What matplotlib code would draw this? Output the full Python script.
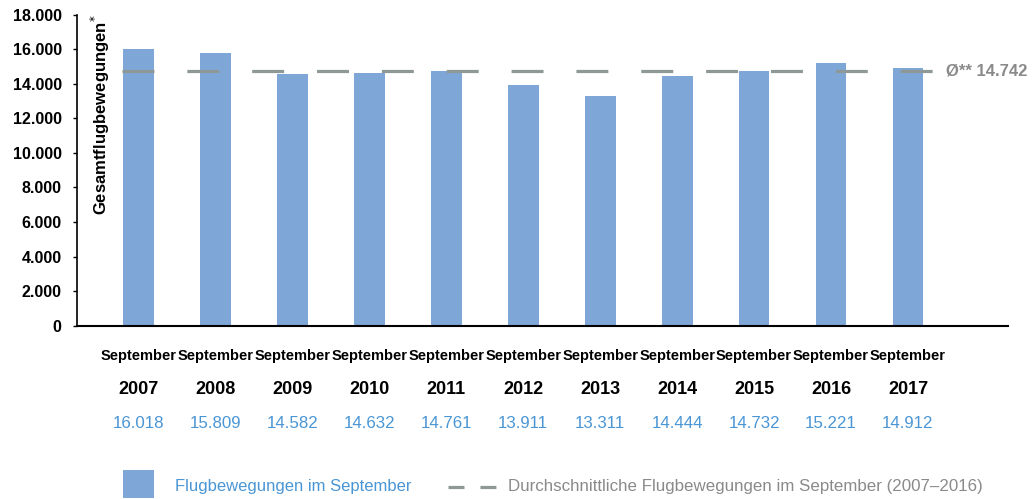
import matplotlib
matplotlib.use("Agg")
import matplotlib.pyplot as plt
from matplotlib.patches import Rectangle
from matplotlib.lines import Line2D
from matplotlib.transforms import blended_transform_factory
from matplotlib.ticker import FuncFormatter

plt.rcParams['font.family'] = ['Liberation Sans', 'DejaVu Sans']

years = ["2007", "2008", "2009", "2010", "2011", "2012", "2013", "2014", "2015", "2016", "2017"]
month_label = "September"
values = [16018, 15809, 14582, 14632, 14761, 13911, 13311, 14444, 14732, 15221, 14912]
value_labels = ["16.018", "15.809", "14.582", "14.632", "14.761", "13.911", "13.311", "14.444", "14.732", "15.221", "14.912"]
average = 14742
average_label = "Ø** 14.742"
y_ticks = [0, 2000, 4000, 6000, 8000, 10000, 12000, 14000, 16000, 18000]
ylabel = "Gesamtflugbewegungen"
legend_bar = "Flugbewegungen im September"
legend_line = "Durchschnittliche Flugbewegungen im September (2007\u20132016)"

BAR = "#7ea7d8"
AVG = "#8e9896"
BLUE_TXT = "#4a96d4"
GRAY_TXT = "#8a8a8a"

W, H = 1032, 499
fig = plt.figure(figsize=(W / 100, H / 100), dpi=100)
ax = fig.add_axes([77 / W, 1 - 325.7 / H, (1008 - 77) / W, (325.7 - 14.7) / H])

x = list(range(len(years)))
ax.bar(x, values, width=0.4, color=BAR, zorder=2)
ax.plot([-0.21, 10.33], [average, average], color=AVG, lw=2.3,
        dashes=(10.0, 10.3), zorder=3, solid_capstyle='butt', dash_capstyle='butt')

ax.set_xlim(-0.8, 11.3)
ax.set_ylim(0, 18000)
ax.set_yticks(y_ticks)
ax.yaxis.set_major_formatter(FuncFormatter(lambda v, p: f"{int(v):,}".replace(",", ".")))
ax.tick_params(axis='y', labelsize=11.5, length=3, width=1, pad=8)
for lbl in ax.get_yticklabels():
    lbl.set_fontweight('bold')
ax.set_xticks([])
for s in ['top', 'right']:
    ax.spines[s].set_visible(False)
ax.spines['left'].set_linewidth(1.2)
ax.spines['bottom'].set_linewidth(1.5)

# y label inside plot
ax.text(-0.49, 18000, ylabel + "$^{*}$", rotation=90, ha='center', va='top',
        fontsize=12, fontweight='bold', transform=ax.transData)

# average label
ax.text(10.5, average, average_label, ha='left', va='center', fontsize=12,
        color=GRAY_TXT, fontweight='bold')

# x labels
tr = blended_transform_factory(ax.transData, fig.transFigure)
for i in x:
    ax.text(i, 1 - 356 / H, month_label, ha='center', va='center', fontsize=10.5,
            fontweight='bold', transform=tr)
    ax.text(i, 1 - 390 / H, years[i], ha='center', va='center', fontsize=13,
            fontweight='bold', transform=tr)
    ax.text(i, 1 - 424 / H, value_labels[i], ha='center', va='center', fontsize=12.2,
            color=BLUE_TXT, transform=tr)

# legend (manual)
fig.add_artist(Rectangle((123 / W, 1 - 498 / H), 31 / W, 28 / H, transform=fig.transFigure,
                         color=BAR, lw=0))
fig.text(175 / W, 1 - 487 / H, legend_bar, ha='left', va='center', fontsize=12, color=BLUE_TXT)
fig.add_artist(Line2D([448 / W, 497 / W], [1 - 487 / H, 1 - 487 / H], transform=fig.transFigure,
                      color=AVG, lw=2.3, dashes=(5.0, 5.0)))
fig.text(508 / W, 1 - 487 / H, legend_line, ha='left', va='center', fontsize=12.2, color=GRAY_TXT)

fig.savefig("out.png", dpi=100)
